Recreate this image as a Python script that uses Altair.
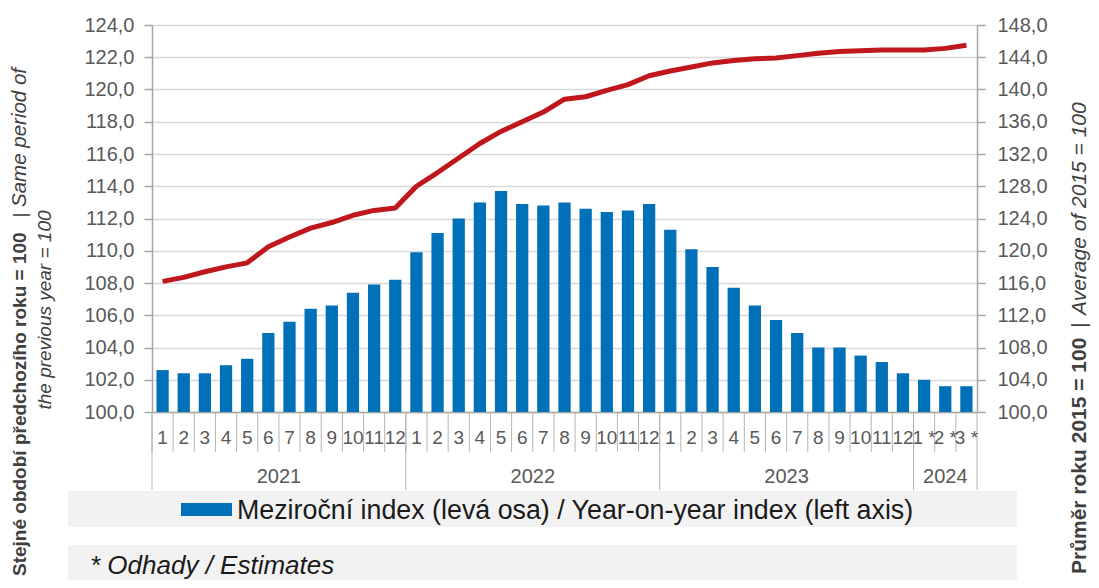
import altair as alt
import pandas as pd

# ---------------- data ----------------
years = [2021] * 12 + [2022] * 12 + [2023] * 12 + [2024] * 3
months = list(range(1, 13)) * 3 + [1, 2, 3]
month_labels = [str(m) for m in range(1, 13)] * 3 + ["1 *", "2 *", "3 *"]

# Meziroční index (left axis)
yoy = [102.6, 102.4, 102.4, 102.9, 103.3, 104.9, 105.6, 106.4, 106.6, 107.4, 107.9, 108.2,
       109.9, 111.1, 112.0, 113.0, 113.7, 112.9, 112.8, 113.0, 112.6, 112.4, 112.5, 112.9,
       111.3, 110.1, 109.0, 107.7, 106.6, 105.7, 104.9, 104.0, 104.0, 103.5, 103.1, 102.4,
       102.0, 101.6, 101.6]

# Average of 2015 = 100 (right axis)
base = [116.2, 116.7, 117.4, 118.0, 118.5, 120.5, 121.7, 122.8, 123.5, 124.4, 125.0, 125.3,
        128.0, 129.7, 131.5, 133.3, 134.8, 136.0, 137.2, 138.8, 139.1, 139.9, 140.6, 141.7,
        142.3, 142.8, 143.3, 143.6, 143.8, 143.9, 144.2, 144.5, 144.7, 144.8, 144.9, 144.9,
        144.9, 145.1, 145.5]

left_ticks = list(range(100, 125, 2))
right_ticks = list(range(100, 149, 4))

legend_text = "Meziroční index (levá osa) / Year-on-year index (left axis)"
footnote_text = "* Odhady / Estimates"

keys = [f"{y}-{m:02d}" for y, m in zip(years, months)]
df = pd.DataFrame({"key": keys, "label": month_labels, "yoy": yoy, "base": base})

year_list = sorted(set(years))
year_start = pd.DataFrame({"key": [f"{y}-01" for y in year_list]})
year_end = pd.DataFrame({"key": [keys[-1]]})
full_years = pd.DataFrame({"key": [f"{y}-06" for y in year_list if years.count(y) == 12],
                           "year": [str(y) for y in year_list if years.count(y) == 12]})
part_years = pd.DataFrame({"key": [f"{y}-02" for y in year_list if years.count(y) < 12],
                           "year": [str(y) for y in year_list if years.count(y) < 12]})
one = pd.DataFrame({"a": [0]})

FONT = "Liberation Sans"
BAR = "#0070B8"
RED = "#C0171D"
AXIS = "#a6a6a6"
GRID = "#d9d9d9"
LABEL = "#595959"
SEP = "#b4b4b4"

xscale = alt.Scale(domain=keys, paddingInner=0, paddingOuter=0)
fmt = "replace(format(datum.value, '.1f'), '.', ',')"

X_AXIS = alt.Axis(labels=False, ticks=False, domain=True, domainColor=AXIS,
                  domainWidth=1.5, grid=False, title=None)

# ---------------- background boxes ----------------
legend_box = alt.Chart(one).mark_rect(color="#f2f2f2").encode(
    x=alt.value(-84), x2=alt.value(865), y=alt.value(466), y2=alt.value(502))
foot_box = alt.Chart(one).mark_rect(color="#f2f2f2").encode(
    x=alt.value(-84), x2=alt.value(865), y=alt.value(520), y2=alt.value(560))

# ---------------- bars ----------------
bars = alt.Chart(df).mark_bar(color=BAR, width=alt.RelativeBandSize(0.58)).encode(
    x=alt.X("key:N", scale=xscale, axis=X_AXIS),
    y=alt.Y("yoy:Q", scale=alt.Scale(domain=[100, 124], zero=False, nice=False),
            axis=alt.Axis(orient="left", values=left_ticks, labelExpr=fmt, grid=True,
                          gridColor=GRID, gridWidth=1.5, domainColor=AXIS, domainWidth=1.5,
                          tickColor=AXIS, tickWidth=1.5, tickSize=8, labelFontSize=20,
                          labelColor=LABEL, labelPadding=10, labelFont=FONT, title=None)),
    y2=alt.datum(100),
)

# ---------------- line ----------------
line = alt.Chart(df).mark_line(color=RED, strokeWidth=5, strokeJoin="round").encode(
    x=alt.X("key:N", scale=xscale, bandPosition=0.5, axis=X_AXIS),
    y=alt.Y("base:Q", scale=alt.Scale(domain=[100, 148], zero=False, nice=False),
            axis=alt.Axis(orient="right", values=right_ticks, labelExpr=fmt, grid=False,
                          domainColor=AXIS, domainWidth=1.5, tickColor=AXIS, tickWidth=1.5,
                          tickSize=8, labelFontSize=20, labelColor=LABEL, labelPadding=12,
                          labelFont=FONT, title=None)),
)

# ---------------- category axis (two rows) ----------------
month_sep = alt.Chart(df).mark_rule(color=SEP, strokeWidth=1).encode(
    x=alt.X("key:N", scale=xscale, bandPosition=0, axis=X_AXIS),
    y=alt.value(387), y2=alt.value(427))
year_sep = alt.Chart(year_start).mark_rule(color=SEP, strokeWidth=1).encode(
    x=alt.X("key:N", scale=xscale, bandPosition=0, axis=X_AXIS),
    y=alt.value(387), y2=alt.value(465))
end_sep = alt.Chart(year_end).mark_rule(color=SEP, strokeWidth=1).encode(
    x=alt.X("key:N", scale=xscale, bandPosition=1, axis=X_AXIS),
    y=alt.value(387), y2=alt.value(465))

month_text = alt.Chart(df).mark_text(fontSize=19, color=LABEL, font=FONT,
                                     baseline="middle", align="center").encode(
    x=alt.X("key:N", scale=xscale, bandPosition=0.5, axis=X_AXIS),
    y=alt.value(413), text="label:N")
year_text_full = alt.Chart(full_years).mark_text(fontSize=20, color=LABEL, font=FONT,
                                                 baseline="middle", align="center").encode(
    x=alt.X("key:N", scale=xscale, bandPosition=1, axis=X_AXIS),
    y=alt.value(452), text="year:N")
year_text_part = alt.Chart(part_years).mark_text(fontSize=20, color=LABEL, font=FONT,
                                                 baseline="middle", align="center").encode(
    x=alt.X("key:N", scale=xscale, bandPosition=0.5, axis=X_AXIS),
    y=alt.value(452), text="year:N")

# ---------------- legend & footnote ----------------
legend_swatch = alt.Chart(one).mark_rect(color=BAR).encode(
    x=alt.value(29), x2=alt.value(80), y=alt.value(478), y2=alt.value(491))
legend_label = alt.Chart(one).mark_text(text=legend_text, fontSize=26.8, font=FONT,
                                        color="#1a1a1a", align="left",
                                        baseline="middle").encode(
    x=alt.value(85), y=alt.value(486))
foot_label = alt.Chart(one).mark_text(text=footnote_text, fontSize=26, font=FONT,
                                      fontStyle="italic", color="#1a1a1a", align="left",
                                      baseline="middle").encode(
    x=alt.value(-62), y=alt.value(541))

# ---------------- rotated axis titles (mixed styles) ----------------
TC = "#404040"


def rot(text, x, y, align, weight="normal", style="normal", size=19):
    return alt.Chart(one).mark_text(text=text, angle=270, fontSize=size, font=FONT,
                                    fontWeight=weight, fontStyle=style, color=TC,
                                    align=align, baseline="middle").encode(
        x=alt.value(x), y=alt.value(y))


lt1 = rot("Stejné období předchozího roku = 100", -132, 551, "left", weight="bold")
lt2 = rot("|", -132, 190, "center")
lt3 = rot("Same period of", -132, 182, "left", style="italic", size=20.5)
lt4 = rot("the previous year = 100", -107, 285, "center", style="italic")

rt1 = rot("Průměr roku 2015 = 100", 928, 549, "left", weight="bold", size=21)
rt2 = rot("|", 928, 300, "center", size=21)
rt3 = rot("Average of 2015 = 100", 928, 290, "left", style="italic", size=21)

chart = alt.layer(
    legend_box, foot_box, bars, line, month_sep, year_sep, end_sep,
    month_text, year_text_full, year_text_part, legend_swatch, legend_label, foot_label,
    lt1, lt2, lt3, lt4, rt1, rt2, rt3,
).resolve_scale(y="independent").properties(
    width=825, height=387,
    padding={"left": 144, "top": 17, "right": 114, "bottom": 168},
    autosize=alt.AutoSizeParams(type="none"),
).configure_view(stroke=None).configure(font=FONT, background="white")

chart.save("out.html", embed_options={"renderer": "svg", "actions": False})
